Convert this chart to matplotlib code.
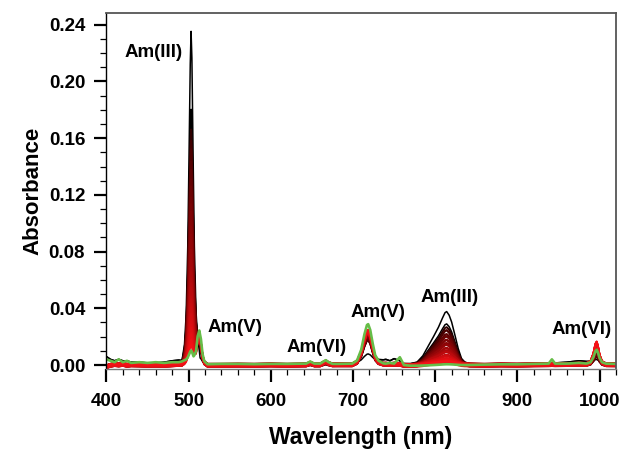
import numpy as np
import matplotlib
matplotlib.use("Agg")
import matplotlib.pyplot as plt
from matplotlib.ticker import MultipleLocator, FormatStrFormatter

plt.rcParams['font.family'] = ['Liberation Sans', 'DejaVu Sans']
plt.rcParams['font.weight'] = 'bold'

# ---- normalised band profiles (wavelength nm, relative height)
p503_wl = [492, 495, 497, 499, 500.5, 502, 503, 504, 505.5, 507, 509, 511, 514]
p503_v = [0, 0.05, 0.14, 0.35, 0.62, 0.90, 1.0, 0.92, 0.62, 0.35, 0.15, 0.06, 0]
p513_wl = [506, 509, 511, 513, 515, 517, 519, 523]
p513_v = [0, 0.30, 0.80, 1.0, 0.75, 0.30, 0.10, 0]
p666_wl = [643, 648, 653, 660, 664, 667, 670, 675]
p666_v = [0, 0.6, 0, 0, 0.6, 1.0, 0.5, 0]
p718_wl = [699, 705, 710, 714, 717, 718.5, 721, 724, 727, 731, 737]
p718_v = [0, 0.08, 0.35, 0.75, 0.98, 1.0, 0.85, 0.50, 0.20, 0.06, 0]
p813_wl = [770, 778, 785, 792, 798, 804, 809, 812, 814, 817, 820, 824, 828, 832, 836, 842]
p813_v = [0, 0.03, 0.15, 0.35, 0.52, 0.70, 0.88, 0.98, 1.0, 0.93, 0.80, 0.55, 0.29, 0.10, 0.03, 0]
p996_wl = [984, 989, 992.5, 995, 996.5, 998, 1000, 1003, 1008]
p996_v = [0, 0.1, 0.45, 0.9, 1.0, 0.8, 0.4, 0.1, 0]

# ---- baselines
base_wl = [400, 405, 410, 415, 420, 425, 430, 440, 450, 460, 470, 480, 488, 495,
           520, 540, 560, 580, 600, 620, 640, 660, 680, 700, 730, 740, 745, 750,
           757, 762, 770, 790, 840, 860, 880, 900, 920, 938, 942, 946, 960, 975,
           985, 1005, 1020]
base_black = [0.006, 0.004, 0.003, 0.004, 0.003, 0.003, 0.002, 0.002, 0.0015, 0.0015,
              0.002, 0.003, 0.0035, 0.003, 0.001, 0.0005, 0.0008, 0.0005, 0.0008,
              0.0005, 0.001, 0.0008, 0.001, 0.001, 0.003, 0.004, 0.003, 0.0045, 0.003,
              0.001, 0.001, 0.001, 0.001, 0.0008, 0.001, 0.0008, 0.001, 0.0015, 0.0015,
              0.0015, 0.002, 0.003, 0.0025, 0.0015, 0.001]
base_red = [-0.001, 0.0, 0.0005, 0.0002, 0.0006, 0.0, 0.0003, 0.0002, 0.0, 0.0001,
            0.0, 0.0003, 0.0006, 0.0008, 0.0, 0.0, 0.0001, 0.0, 0.0002, 0.0, 0.0002,
            0.0002, 0.0003, 0.0003, 0.0006, 0.0008, 0.0005, 0.0008, 0.0006, 0.0,
            -0.0002, 0.0, 0.0002, 0.0, 0.0002, 0.0001, 0.0003, 0.0004, 0.0005, 0.0004,
            0.0005, 0.0008, 0.0006, 0.0004, 0.0003]
base_green = [0.004, 0.003, 0.002, 0.004, 0.002, 0.003, 0.0015, 0.002, 0.0015, 0.002,
              0.0015, 0.002, 0.002, 0.003, 0.0005, 0.0008, 0.0008, 0.0006, 0.0008,
              0.0008, 0.001, 0.001, 0.0008, 0.001, 0.0015, 0.001, 0.0015, 0.001,
              0.0055, 0.0, -0.0005, -0.0005, 0.0, 0.0003, 0.0005, 0.0005, 0.0008,
              0.001, 0.004, 0.001, 0.001, 0.0015, 0.001, 0.001, 0.0008]

# ---- per-trace band heights (absorbance): 2 black traces, 37 red traces, 1 green trace
h503 = [0.233, 0.178,
        0.165, 0.158, 0.151, 0.144, 0.137, 0.131, 0.125, 0.119, 0.113, 0.107,
        0.102, 0.097, 0.092, 0.087, 0.082, 0.077, 0.073, 0.069, 0.065, 0.061,
        0.057, 0.053, 0.049, 0.046, 0.043, 0.040, 0.037, 0.034, 0.031, 0.028,
        0.025, 0.023, 0.021, 0.019, 0.017, 0.015, 0.013,
        0.008]
h813 = [0.0367, 0.028,
        0.026, 0.0248, 0.0237, 0.0226, 0.0215, 0.0206, 0.0196, 0.0187, 0.0177, 0.0168,
        0.016, 0.0152, 0.0144, 0.0137, 0.0129, 0.0121, 0.0115, 0.0108, 0.0102, 0.0096,
        0.0089, 0.0083, 0.0077, 0.0072, 0.0068, 0.0063, 0.0058, 0.0053, 0.0049, 0.0044,
        0.0039, 0.0036, 0.0033, 0.003, 0.0027, 0.0024, 0.002,
        0.0008]
h718 = [0.0056, 0.0155,
        0.017, 0.0175, 0.018, 0.0185, 0.019, 0.0194, 0.0198, 0.0202, 0.0205, 0.0208,
        0.0211, 0.0214, 0.0216, 0.0218, 0.022, 0.0222, 0.0224, 0.0226, 0.0227, 0.0228,
        0.0229, 0.023, 0.0231, 0.0232, 0.0232, 0.0233, 0.0233, 0.0234, 0.0234, 0.0235,
        0.0235, 0.0235, 0.0236, 0.0236, 0.0236, 0.0237, 0.0237,
        0.0275]
h513 = [0.004, 0.012,
        0.0141, 0.0145, 0.0149, 0.0154, 0.0158, 0.0161, 0.0164, 0.0168, 0.017, 0.0173,
        0.0175, 0.0178, 0.0179, 0.0181, 0.0183, 0.0184, 0.0186, 0.0188, 0.0188, 0.0189,
        0.019, 0.0191, 0.0192, 0.0193, 0.0193, 0.0193, 0.0193, 0.0194, 0.0194, 0.0195,
        0.0195, 0.0195, 0.0196, 0.0196, 0.0196, 0.0197, 0.0197,
        0.023]
h996 = [0.002, 0.004,
        0.005, 0.0056, 0.0062, 0.0068, 0.0074, 0.008, 0.0085, 0.009, 0.0095, 0.01,
        0.0104, 0.0108, 0.0112, 0.0116, 0.012, 0.0123, 0.0126, 0.0129, 0.0132, 0.0135,
        0.0137, 0.0139, 0.0141, 0.0143, 0.0145, 0.0147, 0.0148, 0.0149, 0.015, 0.0151,
        0.0152, 0.0153, 0.0154, 0.0154, 0.0155, 0.0155, 0.0155,
        0.0098]
h666 = [0.0003, 0.0006,
        0.0008, 0.0009, 0.001, 0.0011, 0.0012, 0.0013, 0.0014, 0.0015, 0.0016, 0.0016,
        0.0017, 0.0017, 0.0018, 0.0018, 0.0019, 0.0019, 0.002, 0.002, 0.002, 0.0021,
        0.0021, 0.0021, 0.0022, 0.0022, 0.0022, 0.0022, 0.0023, 0.0023, 0.0023, 0.0023,
        0.0023, 0.0023, 0.0023, 0.0023, 0.0023, 0.0023, 0.0023,
        0.0025]
red_offset = [0.0006, -0.0004, 0.0008, -0.001, 0.0002, -0.0006, 0.0005, -0.0012, 0.0001,
              0.0007, -0.0008, 0.0003, -0.0003, 0.0006, -0.0011, 0.0, 0.0004, -0.0007,
              0.0002, -0.0005, 0.0003, 0.0009, -0.0009, 0.0001, -0.0002, 0.0005, -0.001,
              0.0007, -0.0004, 0.0, 0.0008, -0.0006, 0.0003, -0.0012, 0.0004, -0.0001,
              0.0006]

labels = [("Am(III)", 457, 0.2205), ("Am(V)", 557, 0.0265), ("Am(VI)", 656, 0.0123),
          ("Am(V)", 730, 0.037), ("Am(III)", 818, 0.0476), ("Am(VI)", 978, 0.025)]

# ---- build traces on the union of knots
X = np.array(sorted(set(base_wl + p503_wl + p513_wl + p666_wl + p718_wl + p813_wl + p996_wl)))
bands = [(p503_wl, p503_v, h503), (p513_wl, p513_v, h513), (p666_wl, p666_v, h666),
         (p718_wl, p718_v, h718), (p813_wl, p813_v, h813), (p996_wl, p996_v, h996)]
prof = [np.interp(X, w, v, left=0, right=0) for w, v, _ in bands]
bb = np.interp(X, base_wl, base_black)
br = np.interp(X, base_wl, base_red)
bg = np.interp(X, base_wl, base_green)

n = len(h503)
n_red = n - 3
red_cols = [(0.18 + 0.78 * t ** 0.65, 0.0 + 0.07 * t, 0.0 + 0.09 * t) for t in np.linspace(0, 1, n_red)]

fig = plt.figure(figsize=(6.22, 4.5), dpi=100)
ax = fig.add_axes([106 / 622, 1 - 369 / 450, 510 / 622, 356 / 450])

for i in range(n):
    if i < 2:
        base, col, lw = bb, 'black', 1.1
    elif i == n - 1:
        base, col, lw = bg, '#66bd48', 1.9
    else:
        base, col, lw = br + red_offset[i - 2], red_cols[i - 2], 1.4
    y = base.copy()
    for (w, v, h), p in zip(bands, prof):
        y = y + h[i] * p
    ax.plot(X, y, color=col, lw=lw, zorder=2 + i * 0.01)

for txt, x, y in labels:
    ax.text(x, y, txt, ha='center', va='center', fontsize=13.5, fontweight='bold')

ax.set_xlim(399.5, 1020)
ax.set_ylim(-0.0028, 0.2483)
ax.xaxis.set_major_locator(MultipleLocator(100))
ax.xaxis.set_minor_locator(MultipleLocator(20))
ax.yaxis.set_major_locator(MultipleLocator(0.04))
ax.yaxis.set_minor_locator(MultipleLocator(0.01))
ax.yaxis.set_major_formatter(FormatStrFormatter('%.2f'))
ax.tick_params(which='major', direction='out', length=9, width=1.6, labelsize=13.5, pad=6)
ax.tick_params(which='minor', direction='out', length=4.5, width=0.9)
ax.tick_params(axis='x', which='major', pad=8)
for lab in ax.get_xticklabels() + ax.get_yticklabels():
    lab.set_fontweight('bold')
for s in ['top', 'right']:
    ax.spines[s].set_color('#555555')
    ax.spines[s].set_linewidth(1.3)
ax.spines['left'].set_linewidth(1.0)
ax.spines['bottom'].set_color('#777777')
ax.spines['bottom'].set_linewidth(1.0)

ax.set_xlabel('Wavelength (nm)', fontsize=16.5, fontweight='bold', labelpad=12)
ax.set_ylabel('Absorbance', fontsize=16, fontweight='bold', labelpad=4)

fig.savefig('out.png', dpi=100)
